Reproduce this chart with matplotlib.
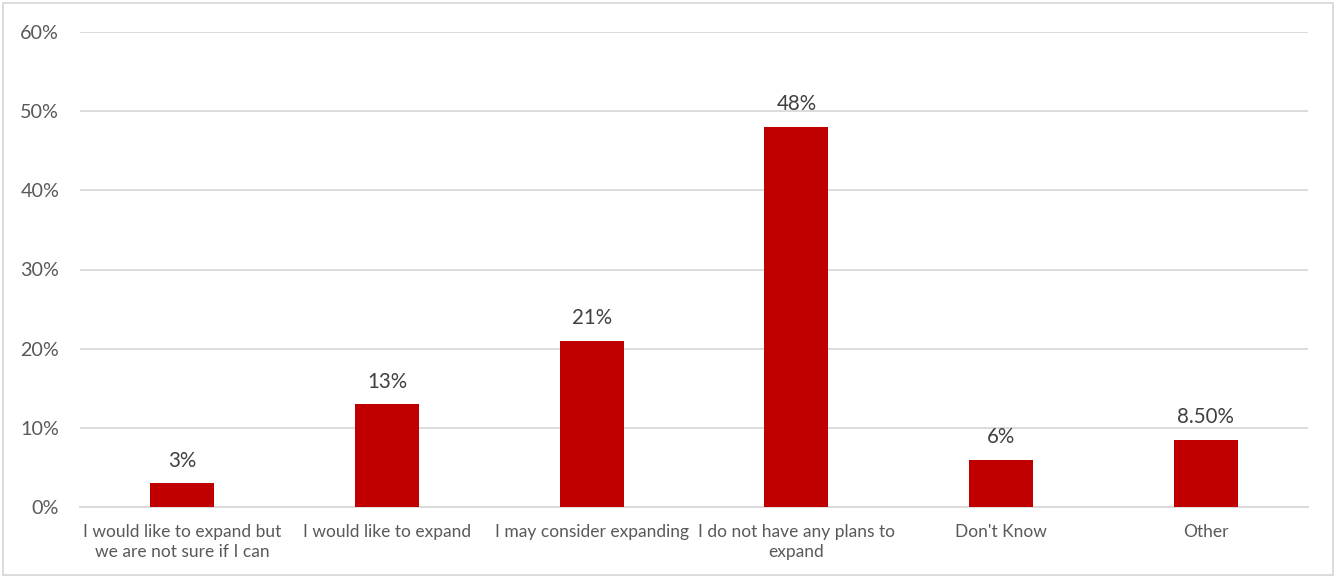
import matplotlib.pyplot as plt
from matplotlib.patches import Rectangle

categories = [
    'I would like to expand but\nwe are not sure if I can',
    'I would like to expand',
    'I may consider expanding',
    'I do not have any plans to\nexpand',
    "Don't Know",
    'Other',
]
values = [3, 13, 21, 48, 6, 8.5]
value_labels = ['3%', '13%', '21%', '48%', '6%', '8.50%']
y_ticks = [0, 10, 20, 30, 40, 50, 60]

plt.rcParams['font.family'] = ['Lato', 'DejaVu Sans']

fig = plt.figure(figsize=(13.37, 5.77), dpi=100)
ax = fig.add_axes([80 / 1337, 1 - 507 / 577, 1228 / 1337, 475 / 577])

x = range(len(categories))
bars = ax.bar(x, values, width=0.313, color='#C00000', zorder=3)

for bar, label in zip(bars, value_labels):
    ax.annotate(label, (bar.get_x() + bar.get_width() / 2, bar.get_height()),
                xytext=(0, 9), textcoords='offset points',
                ha='center', va='bottom', fontsize=14.8, color='#404040')

ax.set_xlim(-0.5, len(categories) - 0.5)
ax.set_ylim(0, 60)
ax.set_yticks(y_ticks)
ax.set_yticklabels([f'{t}%' for t in y_ticks])
ax.set_xticks(list(x))
ax.set_xticklabels(categories, fontsize=12.5, color='#595959', linespacing=1.3)
ax.tick_params(axis='y', labelsize=14.2, labelcolor='#595959', length=0, pad=15)
ax.tick_params(axis='x', length=0, pad=12)

ax.grid(axis='y', color='#D9D9D9', linewidth=1.3, zorder=0)
for side in ['top', 'right', 'left']:
    ax.spines[side].set_visible(False)
ax.spines['bottom'].set_color('#D9D9D9')
ax.spines['bottom'].set_linewidth(1.3)

# thin frame around the whole chart area
fig.patches.append(Rectangle((3 / 1337, 2 / 577), 1330 / 1337, 572 / 577,
                             transform=fig.transFigure, fill=False,
                             edgecolor='#D9D9D9', linewidth=1.3))

fig.savefig('out.png', dpi=100)
